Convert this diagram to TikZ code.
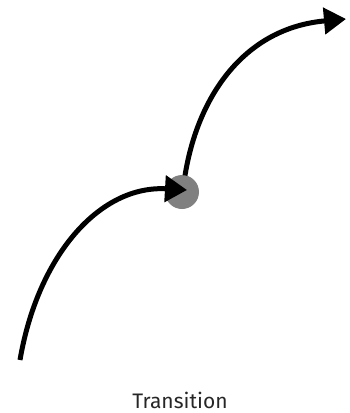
\documentclass[tikz,border=0pt]{standalone}
\usepackage{fontspec}
\setmainfont{Fira Sans}
\usetikzlibrary{arrows.meta, calc}
\definecolor{cgrey}{HTML}{808080}
\tikzset{
  every picture/.style={line width=5pt},
  state/.style={circle, fill=cgrey, draw=none, minimum size=34pt, inner sep=0pt},
  flow/.style={-{Triangle[length=22pt, width=26pt]}, draw=black, line width=5pt},
  caption/.style={font=\fontsize{21}{24}\selectfont, text=black!85},
}

\begin{document}
\begin{tikzpicture}[x=1pt, y=-1pt]
  \useasboundingbox (0,0) rectangle (349,413);
  % the state and the two moves
  \node[state] (trans) at (182,192) {};
  \coordinate (start) at (20,360);
  \coordinate (goal) at (346,19);
  \draw[flow] (start) .. controls (38,255) and (100,185) .. ($(trans.center)+(5,-2)$);
  \draw[flow] ($(trans.north)+(3,3)$) .. controls (198,95) and (245,28) .. (goal);
  \node[caption] (label) at (180,400) {Transition};
\end{tikzpicture}
\end{document}
